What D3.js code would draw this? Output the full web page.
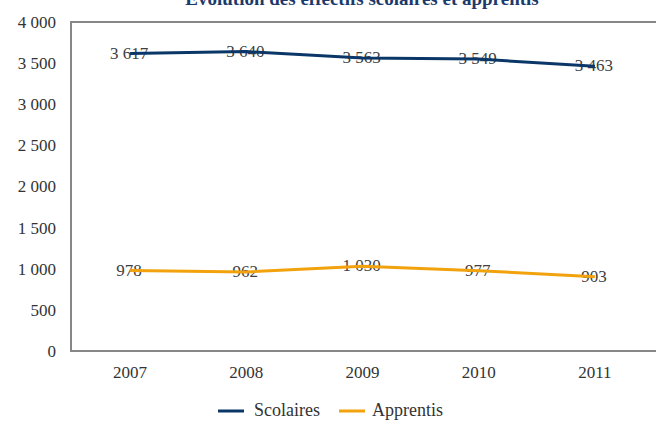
<!DOCTYPE html>
<html><head><meta charset="utf-8">
<script src="https://cdn.jsdelivr.net/npm/d3@7"></script>
<style>body{margin:0;background:#fff}svg{display:block}svg text{font-family:"Liberation Serif","Times New Roman",serif !important}</style>
</head><body>
<svg id="c" width="656" height="425"></svg>
<script>
const years = ["2007","2008","2009","2010","2011"];
const scolaires = [3617, 3640, 3563, 3549, 3463];
const apprentis = [978, 962, 1030, 977, 903];
const yTicks = [0,500,1000,1500,2000,2500,3000,3500,4000];
const seriesNames = ["Scolaires","Apprentis"];
const colors = ["#0b3768","#f2a20c"];
const title = "Évolution des effectifs scolaires et apprentis";

const svg = d3.select("#c");
const x = d3.scaleBand().domain(years).range([72, 653]);
const y = d3.scaleLinear().domain([0,4000]).range([351, 22]);
const cx = d => x(d) + x.bandwidth()/2;
const fmt = v => d3.format(",")(v).replace(/,/g, " ");

svg.append("text").attr("x", 362).attr("y", 5).attr("text-anchor","middle")
  .attr("font-size", 19).attr("font-weight","bold").attr("fill","#1b3a6b").text(title);

// frame
const g = svg.append("g");
g.append("line").attr("x1",71).attr("x2",656).attr("y1",y(4000)).attr("y2",y(4000)).attr("stroke","#878787").attr("stroke-width",2);
g.append("line").attr("x1",71).attr("x2",656).attr("y1",y(0)).attr("y2",y(0)).attr("stroke","#878787").attr("stroke-width",2);
g.append("line").attr("x1",71).attr("x2",71).attr("y1",y(4000)-1).attr("y2",y(0)+1).attr("stroke","#878787").attr("stroke-width",2);

// y axis
const yAxis = d3.axisLeft(y).tickValues(yTicks).tickSize(0).tickPadding(15).tickFormat(fmt);
const ya = svg.append("g").attr("transform","translate(71,0)").call(yAxis);
ya.select(".domain").remove();
ya.selectAll("text").attr("font-size",17).attr("fill","#333");

// x axis
const xAxis = d3.axisBottom(x).tickSize(0).tickPadding(15);
const xa = svg.append("g").attr("transform",`translate(0,${y(0)})`).call(xAxis);
xa.select(".domain").remove();
xa.selectAll("text").attr("font-size",17).attr("fill","#333");

const data = [scolaires, apprentis];
data.forEach((vals, i) => {
  svg.append("g").selectAll("text").data(vals).join("text")
    .attr("x",(d,j)=>cx(years[j])-1).attr("y",d=>y(d)+5)
    .attr("text-anchor","middle").attr("font-size",17).attr("fill","#404040")
    .text(fmt);
});
data.forEach((vals, i) => {
  const line = d3.line().x((d,j)=>cx(years[j])).y(d=>y(d));
  svg.append("path").datum(vals).attr("d", line).attr("fill","none")
    .attr("stroke", colors[i]).attr("stroke-width",3);
});

// legend
const leg = [{x1:218,tx:254},{x1:339,tx:372}];
seriesNames.forEach((n,i)=>{
  svg.append("line").attr("x1",leg[i].x1).attr("x2",leg[i].x1+26).attr("y1",411).attr("y2",411)
    .attr("stroke",colors[i]).attr("stroke-width",3);
  svg.append("text").attr("x",leg[i].tx).attr("y",416).attr("font-size",18).attr("fill","#333").text(n);
});
</script>
</body></html>
